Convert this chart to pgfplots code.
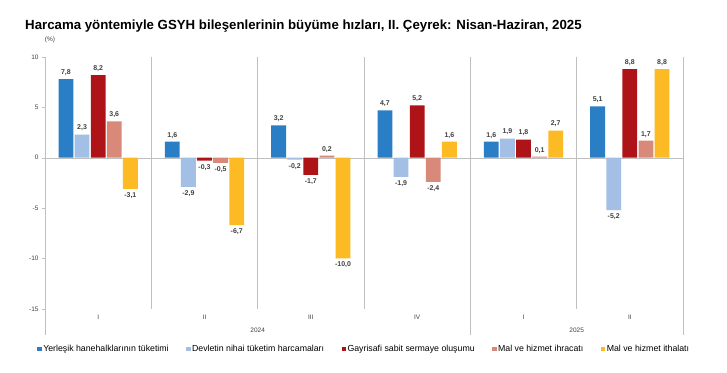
\documentclass[border=0pt]{standalone}
\usepackage{pgfplots}
\pgfplotsset{compat=1.18}
\usepackage{fontspec}
\setmainfont{Liberation Sans}
\definecolor{cA}{HTML}{2A7EC6}
\definecolor{cB}{HTML}{A4BFE5}
\definecolor{cC}{HTML}{AE1318}
\definecolor{cD}{HTML}{D9897A}
\definecolor{cE}{HTML}{FCBB24}
\definecolor{sep}{HTML}{BFBFBF}
\definecolor{txt}{HTML}{404040}
\pgfplotsset{sqlegend/.style={legend image code/.code={\fill[##1] (0bp,-2.2bp) rectangle (4.4bp,2.2bp);}}}
\begin{document}
\begin{tikzpicture}
\useasboundingbox[fill=white] (0,0) rectangle (727bp,373bp);
\node[anchor=base west, inner sep=0, font=\bfseries\fontsize{13.3}{15}\selectfont] at (25bp,343bp) {Harcama yöntemiyle GSYH bileşenlerinin büyüme hızları, II. Çeyrek: Nisan-Haziran, 2025};
\node[font=\fontsize{6.5}{8}\selectfont, text=txt] at (50bp,333bp) {(\%)};
\begin{axis}[
  at={(45bp,38bp)}, anchor=south west,
  scale only axis, width=638bp, height=278bp,
  xmin=-0.5, xmax=5.5, ymin=-17.6, ymax=10,
  clip=false,
  axis x line=none, axis y line*=left,
  y axis line style={-, draw=sep},
  ytick={-15,-10,-5,0,5,10},
  tick align=outside, major tick length=3bp,
  ytick style={draw=sep},
  yticklabel style={font=\fontsize{6.5}{8}\selectfont, text=txt},
  /pgf/number format/assume math mode=true,
  ybar=1.3bp, bar width=14.8bp,
  nodes near coords,
  every node near coord/.append style={font=\bfseries\fontsize{7}{8}\selectfont, text=txt,
    /pgf/number format/.cd, fixed, fixed zerofill, precision=1, use comma, assume math mode=true},
  legend columns=5,
  legend style={draw=none, fill=none, font=\fontsize{8.8}{10}\selectfont, at={(0.5,0)}, anchor=north, yshift=-7bp,
    /tikz/every even column/.append style={column sep=16bp}, inner sep=1bp,
    nodes={inner xsep=1.5bp}},
]
\draw[sep] (axis cs:-0.5,0) -- (axis cs:5.5,0);
\pgfplotsinvokeforeach{0.5,1.5,2.5,4.5}{\draw[sep] (axis cs:#1,10) -- (axis cs:#1,-15);}
\pgfplotsinvokeforeach{3.5,5.5}{\draw[sep] (axis cs:#1,10) -- (axis cs:#1,-17.6);}
\addplot[fill=cA, draw=none, sqlegend] coordinates {(0,7.8)(1,1.6)(2,3.2)(3,4.7)(4,1.6)(5,5.1)};
\addplot[fill=cB, draw=none, sqlegend] coordinates {(0,2.3)(1,-2.9)(2,-0.2)(3,-1.9)(4,1.9)(5,-5.2)};
\addplot[fill=cC, draw=none, sqlegend] coordinates {(0,8.2)(1,-0.3)(2,-1.7)(3,5.2)(4,1.8)(5,8.8)};
\addplot[fill=cD, draw=none, sqlegend] coordinates {(0,3.6)(1,-0.5)(2,0.2)(3,-2.4)(4,0.1)(5,1.7)};
\addplot[fill=cE, draw=none, sqlegend] coordinates {(0,-3.1)(1,-6.7)(2,-10.0)(3,1.6)(4,2.7)(5,8.8)};
\legend{Yerleşik hanehalklarının tüketimi, Devletin nihai tüketim harcamaları, Gayrisafi sabit sermaye oluşumu, Mal ve hizmet ihracatı, Mal ve hizmet ithalatı}
\node[font=\fontsize{6.5}{8}\selectfont, text=txt] at (axis cs:0,-15.85) {I};
\node[font=\fontsize{6.5}{8}\selectfont, text=txt] at (axis cs:1,-15.85) {II};
\node[font=\fontsize{6.5}{8}\selectfont, text=txt] at (axis cs:2,-15.85) {III};
\node[font=\fontsize{6.5}{8}\selectfont, text=txt] at (axis cs:3,-15.85) {IV};
\node[font=\fontsize{6.5}{8}\selectfont, text=txt] at (axis cs:4,-15.85) {I};
\node[font=\fontsize{6.5}{8}\selectfont, text=txt] at (axis cs:5,-15.85) {II};
\node[font=\fontsize{6.5}{8}\selectfont, text=txt] at (axis cs:1.5,-17.15) {2024};
\node[font=\fontsize{6.5}{8}\selectfont, text=txt] at (axis cs:4.5,-17.15) {2025};
\end{axis}
\end{tikzpicture}
\end{document}
